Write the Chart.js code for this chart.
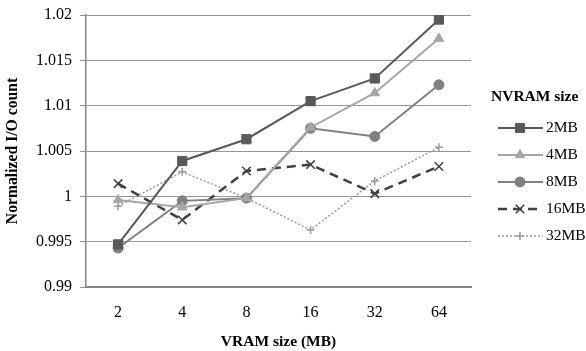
<!DOCTYPE html>
<html><head><meta charset="utf-8">
<script src="https://cdn.jsdelivr.net/npm/chart.js@4"></script>
<style>html,body{margin:0;padding:0;background:#fff}#wrap{width:586px;height:351px}</style>
</head><body><div id="wrap"><canvas id="c" width="586" height="351"></canvas></div>
<script>
const categories = ["2","4","8","16","32","64"];
const seriesNames = ["2MB","4MB","8MB","16MB","32MB"];
const s2MB  = [0.9947, 1.0039, 1.0063, 1.0105, 1.0130, 1.0195];
const s4MB  = [0.9996, 0.9988, 0.9998, 1.0076, 1.0114, 1.0174];
const s8MB  = [0.9943, 0.9995, 0.9998, 1.0075, 1.0066, 1.0123];
const s16MB = [1.0014, 0.9974, 1.0028, 1.0035, 1.0003, 1.0033];
const s32MB = [0.9989, 1.0027, 0.9998, 0.9963, 1.0017, 1.0054];
const yTicks = [0.99, 0.995, 1, 1.005, 1.01, 1.015, 1.02];

const FONT = "'Liberation Serif','Times New Roman',serif";

const styles = [
  {color:'#595959', pointStyle:'rect', pointRadius:6.5, borderWidth:2, dash:[]},
  {color:'#a6a6a6', pointStyle:'triangle', pointRadius:5.5, borderWidth:2, dash:[]},
  {color:'#808080', pointStyle:'circle', pointRadius:5, borderWidth:2, dash:[]},
  {color:'#404040', pointStyle:'crossRot', pointRadius:6, borderWidth:2.5, dash:[9,6]},
  {color:'#9a9a9a', pointStyle:'cross', pointRadius:4, borderWidth:1.5, dash:[2,2]}
];
const allSeries = [s2MB, s4MB, s8MB, s16MB, s32MB];

const datasets = allSeries.map((d,i)=>({
  label: seriesNames[i],
  data: d,
  borderColor: styles[i].color,
  backgroundColor: styles[i].color,
  pointBackgroundColor: styles[i].color,
  pointBorderColor: styles[i].color,
  pointStyle: styles[i].pointStyle,
  pointRadius: styles[i].pointRadius,
  pointBorderWidth: (i>=3)?1.5:1,
  borderWidth: styles[i].borderWidth,
  borderDash: styles[i].dash,
  tension: 0,
  fill: false
}));

const legendPlugin = {
  id:'customLegend',
  afterDraw(chart){
    const ctx = chart.ctx;
    ctx.save();
    ctx.fillStyle = '#000';
    ctx.font = "bold 15.5px " + FONT;
    ctx.textBaseline = 'middle';
    ctx.textAlign = 'left';
    ctx.fillText('NVRAM size', 491, 97);
    chart.data.datasets.forEach((ds,i)=>{
      const y = 128 + i*27;
      ctx.save();
      ctx.strokeStyle = ds.borderColor;
      ctx.lineWidth = ds.borderWidth;
      ctx.setLineDash(ds.borderDash);
      ctx.beginPath(); ctx.moveTo(498,y); ctx.lineTo(543,y); ctx.stroke();
      ctx.restore();
      ctx.save();
      ctx.fillStyle = ds.pointBackgroundColor; ctx.strokeStyle = ds.pointBorderColor; ctx.lineWidth = ds.pointBorderWidth;
      Chart.helpers.drawPoint(ctx, {pointStyle: ds.pointStyle, radius: ds.pointRadius, borderWidth: ds.pointBorderWidth, rotation:0}, 520, y);
      ctx.restore();
      ctx.fillStyle = '#000';
      ctx.font = "15.5px " + FONT;
      ctx.fillText(ds.label, 546, y);
    });
    ctx.restore();
  }
};

new Chart(document.getElementById('c'), {
  type:'line',
  data:{labels:categories, datasets},
  plugins:[legendPlugin],
  options:{
    responsive:false,
    animation:false,
    layout:{padding:{top:15,right:115,left:0,bottom:0}},
    plugins:{legend:{display:false}, tooltip:{enabled:false}},
    scales:{
      x:{
        offset:true,
        grid:{display:false},
        border:{display:true,color:'#868686',width:2},
        ticks:{color:'#000',font:{family:FONT,size:16},padding:8},
        title:{display:true,text:'VRAM size (MB)',color:'#000',font:{family:FONT,size:15.5,weight:'bold'},padding:{top:4,bottom:0}},
        afterFit(s){ s.height = 64; s.paddingLeft = 0; s.paddingRight = 0; }
      },
      y:{
        min:0.99,max:1.02,
        afterBuildTicks(s){ s.ticks = yTicks.map(v=>({value:v})); },
        grid:{color:'#959595',lineWidth:1,tickLength:6},
        border:{display:true,color:'#868686',width:1.5},
        ticks:{color:'#000',font:{family:FONT,size:16},padding:8,
          callback:(v)=>String(Number(v.toFixed(3)))},
        title:{display:true,text:'Normalized I/O count',color:'#000',font:{family:FONT,size:15.7,weight:'bold'},padding:{top:4,bottom:4}},
        afterFit(s){ s.width = 86; s.paddingTop = 0; s.paddingBottom = 0; }
      }
    }
  }
});
</script></body></html>
